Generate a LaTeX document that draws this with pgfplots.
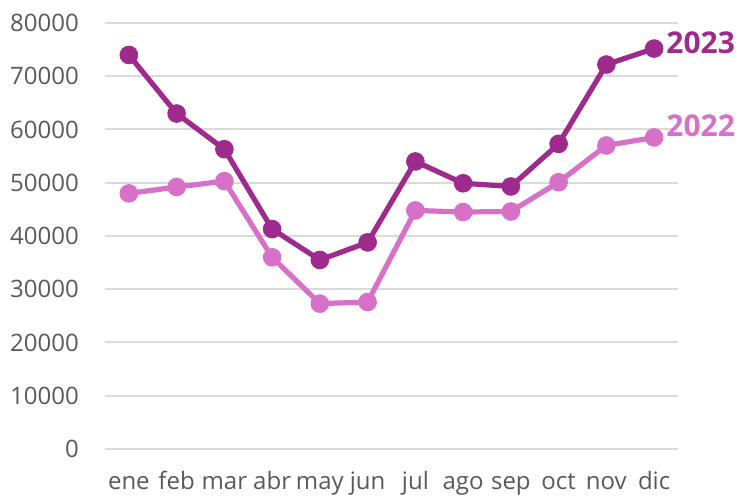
\documentclass[border=0pt]{standalone}
\usepackage{pgfplots}
\pgfplotsset{compat=1.18}
\usepackage{fontspec}
\setmainfont{Open Sans}
\definecolor{c23}{HTML}{9E2A8E}
\definecolor{c22}{HTML}{D670C9}
\definecolor{gridc}{HTML}{D9D9D9}
\definecolor{tickc}{HTML}{595959}
\begin{document}
\begin{tikzpicture}
\begin{axis}[
    name=ax,
    scale only axis,
    width=429.75pt, height=319.5pt,
    xmin=-0.5, xmax=11.5,
    ymin=0, ymax=80000,
    xtick={0,...,11},
    xticklabels={ene,feb,mar,abr,may,jun,jul,ago,sep,oct,nov,dic},
    ytick={0,10000,...,80000},
    scaled y ticks=false,
    /pgf/number format/assume math mode=true,
    yticklabel={\pgfmathprintnumber[fixed,1000 sep={}]{\tick}},
    tick label style={font=\fontsize{18}{21}\selectfont, text=tickc, inner sep=0pt},
    ymajorgrids,
    grid style={gridc, line width=1.5pt},
    axis line style={draw=none},
    major tick length=0pt,
    yticklabel style={anchor=east, xshift=-19.5pt},
    xticklabel style={anchor=base, yshift=-30.75pt},
    clip=false,
]
\addplot[c22, line width=3.9pt, mark=*, mark size=5pt] coordinates {
(0,48000) (1,49200) (2,50300) (3,36000) (4,27300) (5,27600)
(6,44800) (7,44500) (8,44600) (9,50100) (10,57000) (11,58500)};
\addplot[c23, line width=3.9pt, mark=*, mark size=5pt] coordinates {
(0,74000) (1,63000) (2,56300) (3,41300) (4,35500) (5,38800)
(6,54000) (7,49900) (8,49300) (9,57300) (10,72200) (11,75200)};
\node[anchor=west, inner sep=0pt, text=c23, font=\fontsize{22.5}{26}\selectfont\bfseries, xshift=9pt, yshift=4.5pt] at (axis cs:11,75200) {2023};
\node[anchor=west, inner sep=0pt, text=c22, font=\fontsize{22.5}{26}\selectfont\bfseries, xshift=9pt, yshift=9pt] at (axis cs:11,58500) {2022};
\end{axis}
\pgfresetboundingbox
\path[use as bounding box] ([xshift=-78.75pt,yshift=-36.75pt]ax.south west) rectangle ([xshift=45pt,yshift=17.25pt]ax.north east);
\end{tikzpicture}
\end{document}
